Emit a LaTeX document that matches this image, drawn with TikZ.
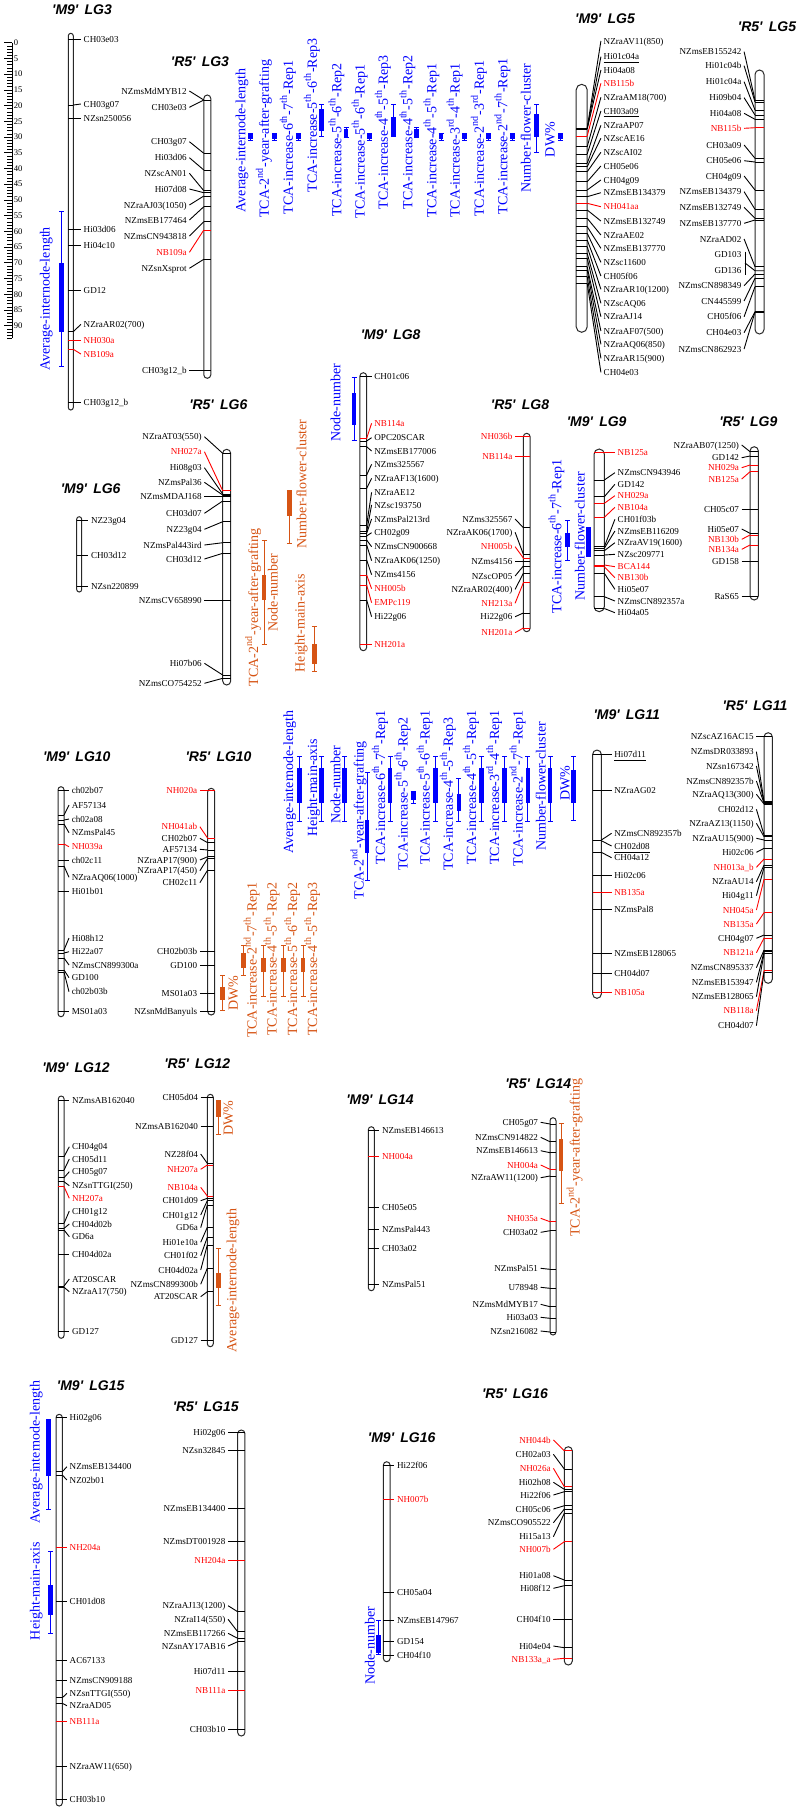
\documentclass[tikz,border=0pt]{standalone}
\usepackage{fontspec}
\setmainfont{Liberation Serif}
\newfontfamily\ttlfont{Liberation Sans}
\definecolor{qblue}{RGB}{0,0,255}
\definecolor{qorg}{RGB}{214,84,20}
\definecolor{mred}{RGB}{255,0,0}
\definecolor{chr}{RGB}{40,40,40}
\newcount\mkn
\newcommand\Sth{\textsuperscript{th}}
\newcommand\Snd{\textsuperscript{nd}}
\newcommand\Srd{\textsuperscript{rd}}
\newcommand\chrom[4]{\def\cx{#1}\pgfmathsetmacro\hw{#2/2}\draw[chromo,rounded corners={#2*0.25pt}] (#1-\hw,#3) rectangle (#1+\hw,#4);}
\newcommand\setlx[1]{\def\lx{#1}}
\newcommand\mkR[4][black]{\global\advance\mkn by 1
 \coordinate (t\the\mkn) at (\cx+\hw,#2);
 \draw[mline,draw=#1] (\cx-\hw,#2) -- (t\the\mkn);
 \node[mlab,text=#1,anchor=west] (m\the\mkn) at (\lx-2.4,#3) {#4};
 \draw[mline,draw=#1] (t\the\mkn) -- (m\the\mkn.west);}
\newcommand\mkL[4][black]{\global\advance\mkn by 1
 \coordinate (t\the\mkn) at (\cx-\hw,#2);
 \draw[mline,draw=#1] (\cx+\hw,#2) -- (t\the\mkn);
 \node[mlab,text=#1,anchor=east] (m\the\mkn) at (\lx+2.4,#3) {#4};
 \draw[mline,draw=#1] (m\the\mkn.east) -- (t\the\mkn);}
\newcommand\qtl[6][qblue]{\draw[qwh,draw=#1] (#2,#3) -- (#2,#4) (#2-2.5,#3) -- (#2+2.5,#3) (#2-2.5,#4) -- (#2+2.5,#4);
 \fill[#1] (#2-2.3,#5) rectangle (#2+2.3,#6);}
\newcommand\qlab[4][qblue]{\global\advance\mkn by 1
 \node[qlabel,text=#1,anchor=east] (q\the\mkn) at (#2,#3) {#4};}
\newcommand\qlabB[4][qblue]{\global\advance\mkn by 1
 \node[qlabel,text=#1,anchor=west] (q\the\mkn) at (#2,#3) {#4};}
\tikzset{
 chromo/.style={line width=0.5pt, draw=chr},
 mline/.style={line width=0.45pt},
 mlab/.style={font=\fontsize{4.55}{5}\selectfont, inner xsep=1.2pt, inner ysep=0.3pt, text height=3pt, text depth=0pt},
 ttl/.style={font=\ttlfont\bfseries\itshape\fontsize{7}{8}\selectfont, inner sep=0pt},
 qlabel/.style={font=\fontsize{7}{8}\selectfont, rotate=90, inner sep=0pt, text height=4.6pt, text depth=0pt},
 qwh/.style={line width=0.5pt},
 slab/.style={font=\fontsize{4.3}{5}\selectfont, inner sep=0.5pt},
}
\begin{document}
\begin{tikzpicture}[x=0.5pt,y=-0.5pt]
\useasboundingbox (0,0) rectangle (800,1811);
% ---------- scale bar ----------
\draw[mline] (12,42.7) -- (12,338);
\foreach \i in {0,...,94} \draw[line width=0.3pt] (7,{42.7+\i*3.144}) -- (12,{42.7+\i*3.144});
\foreach \i in {0,5,...,90} {\draw[line width=0.3pt] (4,{42.7+\i*3.144}) -- (12,{42.7+\i*3.144});
 \node[slab,anchor=west] (s\i) at (12.5,{42.7+\i*3.144}) {\i};}
% ---------- titles ----------
\node[ttl] (T1) at (82,10) {\textquotesingle M9\textquotesingle\hspace{0.45em}LG3};
\node[ttl] (T2) at (200,62) {\textquotesingle R5\textquotesingle\hspace{0.45em}LG3};
\node[ttl] (T3) at (605,18.3) {\textquotesingle M9\textquotesingle\hspace{0.45em}LG5};
\node[ttl] (T4) at (767,26.7) {\textquotesingle R5\textquotesingle\hspace{0.45em}LG5};
\node[ttl] (T5) at (390.7,335) {\textquotesingle M9\textquotesingle\hspace{0.45em}LG8};
\node[ttl] (T6) at (218.3,404.3) {\textquotesingle R5\textquotesingle\hspace{0.45em}LG6};
\node[ttl] (T7) at (90.7,488.3) {\textquotesingle M9\textquotesingle\hspace{0.45em}LG6};
\node[ttl] (T8) at (520,405) {\textquotesingle R5\textquotesingle\hspace{0.45em}LG8};
\node[ttl] (T9) at (596.7,421.7) {\textquotesingle M9\textquotesingle\hspace{0.45em}LG9};
\node[ttl] (T10) at (748.3,421.7) {\textquotesingle R5\textquotesingle\hspace{0.45em}LG9};
\node[ttl] (T11) at (76.8,756.7) {\textquotesingle M9\textquotesingle\hspace{0.45em}LG10};
\node[ttl] (T12) at (218.6,756.7) {\textquotesingle R5\textquotesingle\hspace{0.45em}LG10};
\node[ttl] (T13) at (626.7,714.3) {\textquotesingle M9\textquotesingle\hspace{0.45em}LG11};
\node[ttl] (T14) at (755,706) {\textquotesingle R5\textquotesingle\hspace{0.45em}LG11};
\node[ttl] (T15) at (76,1067.3) {\textquotesingle M9\textquotesingle\hspace{0.45em}LG12};
\node[ttl] (T16) at (197.3,1063.3) {\textquotesingle R5\textquotesingle\hspace{0.45em}LG12};
\node[ttl] (T17) at (380,1100) {\textquotesingle M9\textquotesingle\hspace{0.45em}LG14};
\node[ttl] (T18) at (538.3,1084) {\textquotesingle R5\textquotesingle\hspace{0.45em}LG14};
\node[ttl] (T19) at (90.7,1385.7) {\textquotesingle M9\textquotesingle\hspace{0.45em}LG15};
\node[ttl] (T20) at (205.7,1406.7) {\textquotesingle R5\textquotesingle\hspace{0.45em}LG15};
\node[ttl] (T21) at (401.7,1437.3) {\textquotesingle M9\textquotesingle\hspace{0.45em}LG16};
\node[ttl] (T22) at (515,1394) {\textquotesingle R5\textquotesingle\hspace{0.45em}LG16};
% ---------- M9 LG3 ----------
\chrom{70.8}{5}{33.3}{410}\setlx{83.3}
\mkR{39}{39}{CH03e03}
\mkR{105}{104}{CH03g07}
\mkR{118.3}{118.3}{NZsn250056}
\mkR{229}{229}{Hi03d06}
\mkR{245}{245}{Hi04c10}
\mkR{290}{290}{GD12}
\mkR{331.7}{324.3}{NZraAR02(700)}
\mkR[mred]{340}{340}{NH030a}
\mkR[mred]{349.3}{354}{NB109a}
\mkR{402.7}{402.7}{CH03g12\_b}
\qtl{61.7}{211.7}{366}{262.7}{331.7}
\qlab{45}{226.7}{Average-internode-length}
% ---------- R5 LG3 ----------
\chrom{207.3}{7}{95}{378.3}\setlx{187}
\mkL{100}{91}{NZmsMdMYB12}
\mkL{100}{107.3}{CH03e03}
\mkL{153.3}{141.7}{CH03g07}
\mkL{170}{157.7}{Hi03d06}
\mkL{190.7}{173.3}{NZscAN01}
\mkL{192.7}{189}{Hi07d08}
\mkL{196}{205}{NZraAJ03(1050)}
\mkL{206.7}{220}{NZmsEB177464}
\mkL{221.7}{236}{NZmsCN943818}
\mkL[mred]{230}{252.3}{NB109a}
\mkL{259.3}{268.3}{NZsnXsprot}
\mkL{370.7}{370.7}{CH03g12\_b}
% ---------- row 1 QTLs (M9 LG5) ----------
\qtl{250.7}{133}{140}{134.3}{138.7}\qlab{240.7}{68.3}{Average-internode-length}
\qtl{274.3}{133}{140}{134.3}{138.7}\qlab{264.3}{59.3}{TCA-2\Snd-year-after-grafting}
\qtl{298.3}{133}{140}{134.3}{138.7}\qlab{288.3}{60}{TCA-increase-6\Sth-7\Sth-Rep1}
\qtl{321.7}{104}{136.7}{109.3}{130.7}\qlab{312.3}{38.3}{TCA-increase-5\Sth-6\Sth-Rep3}
\qtl{346}{127.7}{137}{128.5}{136.7}\qlab{336.7}{62.7}{TCA-increase-5\Sth-6\Sth-Rep2}
\qtl{369.3}{133}{140}{134.3}{138.7}\qlab{360}{64.3}{TCA-increase-5\Sth-6\Sth-Rep1}
\qtl{393.3}{104.3}{136.7}{117.3}{136.7}\qlab{383.3}{55}{TCA-increase-4\Sth-5\Sth-Rep3}
\qtl{416.7}{127.7}{137}{128.5}{136.7}\qlab{407.7}{55}{TCA-increase-4\Sth-5\Sth-Rep2}
\qtl{441}{133}{140}{134.3}{138.7}\qlab{431.7}{63.3}{TCA-increase-4\Sth-5\Sth-Rep1}
\qtl{464.3}{133}{140}{134.3}{138.7}\qlab{455}{63.3}{TCA-increase-3\Srd-4\Sth-Rep1}
\qtl{488.7}{133}{140}{134.3}{138.7}\qlab{479.3}{60}{TCA-increase-2\Snd-3\Srd-Rep1}
\qtl{512.3}{133}{140}{134.3}{138.7}\qlab{502.7}{58.3}{TCA-increase-2\Snd-7\Sth-Rep1}
\qtl{536.7}{104.3}{152.7}{114.3}{137.3}\qlab{526}{63.3}{Number-flower-cluster}
\qtl{560.7}{133}{140}{134.3}{138.7}\qlab{550}{121.7}{DW\%}
% ---------- M9 LG5 ----------
\chrom{581.7}{11}{84.3}{332.3}\setlx{603.3}
\mkR{128}{41}{NZraAV11(850)}
\mkR{128.5}{56.7}{\underline{Hi01c04a}}
\mkR{129}{70}{Hi04a08}
\mkR[mred]{136}{83.3}{NB115b}
\mkR{146.7}{97.3}{NZraAM18(700)}
\mkR{154}{111}{\underline{CH03a09}}
\mkR{163.3}{125.3}{NZraAP07}
\mkR{166.7}{138.3}{NZscAE16}
\mkR{171.7}{152.3}{NZscAI02}
\mkR{181.7}{166}{CH05e06}
\mkR{190}{180}{CH04g09}
\mkR{196.7}{192.7}{NZmsEB134379}
\mkR[mred]{203.3}{206.7}{NH041aa}
\mkR{210}{221}{NZmsEB132749}
\mkR{218.3}{235}{NZraAE02}
\mkR{226.7}{248.3}{NZmsEB137770}
\mkR{233.3}{262.3}{NZsc11600}
\mkR{240}{276}{CH05f06}
\mkR{246.7}{289.3}{NZraAR10(1200)}
\mkR{253.3}{303.3}{NZscAQ06}
\mkR{258.3}{316.7}{NZraAJ14}
\mkR{266.7}{331}{NZraAF07(500)}
\mkR{270}{344.3}{NZraAQ06(850)}
\mkR{276.7}{358.3}{NZraAR15(900)}
\mkR{283.3}{372.3}{CH04e03}
% ---------- R5 LG5 ----------
\chrom{759.5}{9}{70}{334}\setlx{741.7}
\mkL{100}{51.7}{NZmsEB155242}
\mkL{102}{65.7}{Hi01c04b}
\mkL{110}{81.7}{Hi01c04a}
\mkL{115}{97.7}{Hi09b04}
\mkL{119.3}{113.3}{Hi04a08}
\mkL[mred]{127.7}{128.3}{NB115b}
\mkL{158.3}{145}{CH03a09}
\mkL{162}{160.7}{CH05e06}
\mkL{190}{176}{CH04g09}
\mkL{209.3}{191.7}{NZmsEB134379}
\mkL{218.3}{207.3}{NZmsEB132749}
\mkL{220}{223.3}{NZmsEB137770}
\mkL{266.7}{239}{NZraAD02}
\node[mlab,anchor=east] (gd103) at (744.1,254) {GD103};
\node[mlab,anchor=east] (gd136) at (744.1,270) {GD136};
\coordinate (gdb) at (745,263);
\coordinate (gdt) at (755,270.7);
\draw[mline] (745,251.7) -- (745,275);
\draw[mline] (gdb) -- (gdt) -- (764,270.7);
\mkL{274}{285.7}{NZmsCN898349}
\mkL{278.3}{301}{CN445599}
\mkL{286.7}{316.7}{CH05f06}
\mkL{311.7}{332.7}{CH04e03}
\mkL{312}{349}{NZmsCN862923}
% ---------- M9 LG6 ----------
\chrom{79.2}{5}{516.7}{592}\setlx{90.7}
\mkR{520.7}{520.7}{NZ23g04}
\mkR{555.7}{555.7}{CH03d12}
\mkR{586}{586}{NZsn220899}
% ---------- R5 LG6 ----------
\chrom{226.7}{8}{449.3}{685}\setlx{202}
\mkL{453.3}{436.7}{NZraAT03(550)}
\mkL[mred]{490.7}{451.7}{NH027a}
\mkL{494}{467.7}{Hi08g03}
\mkL{495}{482.3}{NZmsPal36}
\mkL{496.7}{496.7}{NZmsMDAJ168}
\mkL{501}{513.3}{CH03d07}
\mkL{521.7}{529.3}{NZ23g04}
\mkL{542.7}{545}{NZmsPal443ird}
\mkL{553.3}{559}{CH03d12}
\mkL{600}{600}{NZmsCV658990}
\mkL{675}{663.3}{Hi07b06}
\mkL{678.3}{683.3}{NZmsCO754252}
\qlabB[qorg]{253.6}{686.7}{TCA-2\Snd-year-after-grafting}
\qtl[qorg]{264}{540}{644}{575}{600}
\qlab[qorg]{273}{553}{Node-number}
\qtl[qorg]{289.3}{490}{543.3}{490.7}{516}
\qlab[qorg]{301.7}{419.3}{Number-flower-cluster}
\qtl[qorg]{314.3}{626.7}{671.7}{644}{664.3}
\qlabB[qorg]{300}{672.7}{Height-main-axis}
% ---------- M9 LG8 ----------
\chrom{363.3}{6.7}{372.7}{650.7}\setlx{374}
\mkR{376}{376}{CH01c06}
\mkR[mred]{438.3}{423.3}{NB114a}
\mkR{441}{437.7}{OPC20SCAR}
\mkR{446.7}{451}{NZmsEB177006}
\mkR{475}{464.3}{NZms325567}
\mkR{488.3}{478.3}{NZraAF13(1600)}
\mkR{525}{492.3}{NZraAE12}
\mkR{531.7}{505}{NZsc193750}
\mkR{533.3}{519}{NZmsPal213rd}
\mkR{536}{532.7}{CH02g09}
\mkR{540}{546.7}{NZmsCN900668}
\mkR{545}{560.7}{NZraAK06(1250)}
\mkR{560}{574.7}{NZms4156}
\mkR[mred]{575}{588.7}{NH005b}
\mkR[mred]{585}{602.7}{EMPc119}
\mkR{600}{616.7}{Hi22g06}
\mkR[mred]{644.3}{644.3}{NH201a}
\qtl{354}{377.7}{440.7}{392.7}{425}
\qlab{335.7}{363.3}{Node-number}
% ---------- R5 LG8 ----------
\chrom{526.7}{6.7}{433.3}{631.7}\setlx{512.7}
\mkL[mred]{436.7}{436.7}{NH036b}
\mkL[mred]{456}{456}{NB114a}
\mkL{527.7}{519}{NZms325567}
\mkL{554.3}{532.3}{NZraAK06(1700)}
\mkL[mred]{558}{546.7}{NH005b}
\mkL{561}{561}{NZms4156}
\mkL{566}{576}{NZscOP05}
\mkL{573.3}{589.3}{NZraAR02(400)}
\mkL[mred]{582.7}{603.3}{NH213a}
\mkL{613}{616.7}{Hi22g06}
\mkL[mred]{628}{632.7}{NH201a}
% ---------- M9 LG9 ----------
\chrom{599.2}{10.3}{449}{611.7}\setlx{617.3}
\mkR[mred]{452.7}{452.7}{NB125a}
\mkR{480}{472.7}{NZmsCN943946}
\mkR{496.7}{484.3}{GD142}
\mkR[mred]{503.3}{495.7}{NH029a}
\mkR[mred]{517.3}{507.3}{NB104a}
\mkR{546.7}{519.3}{CH01f03b}
\mkR{548.3}{531}{NZmsEB116209}
\mkR{550.7}{542.7}{NZraAV19(1600)}
\mkR{555}{554.3}{NZsc209771}
\mkR[mred]{565}{566.7}{BCA144}
\mkR[mred]{566.7}{577.7}{NB130b}
\mkR{573.3}{589.3}{Hi05e07}
\mkR{596.7}{601}{NZmsCN892357a}
\mkR{608.5}{612.7}{Hi04a05}
\qtl{567.7}{520}{560}{533.3}{546.7}
\qlab{556.7}{459.3}{TCA-increase-6\Sth-7\Sth-Rep1}
\fill[qblue] (586.4,526.7) rectangle (591,556.7);
\qlab{580}{471.7}{Number-flower-cluster}
% ---------- R5 LG9 ----------
\chrom{754.2}{8.3}{446.7}{600}\setlx{739.3}
\mkL{451.7}{445}{NZraAB07(1250)}
\mkL{456}{457.7}{GD142}
\mkL[mred]{465}{467.7}{NH029a}
\mkL[mred]{471.7}{479}{NB125a}
\mkL{509}{509}{CH05c07}
\mkL{533.3}{529}{Hi05e07}
\mkL[mred]{535}{539.3}{NB130b}
\mkL[mred]{545}{549.3}{NB134a}
\mkL{561.7}{561.7}{GD158}
\mkL{596}{596}{RaS65}
% ---------- M9 LG10 ----------
\chrom{61}{6}{786.7}{1016.7}\setlx{71.4}
\mkR{790}{790}{ch02b07}
\mkR{815}{805}{AF57134}
\mkR{820}{819}{ch02a08}
\mkR{824}{832.7}{NZmsPal45}
\mkR[mred]{844}{846.7}{NH039a}
\mkR{860}{860}{ch02c11}
\mkR{866}{877.3}{NZraAQ06(1000)}
\mkR{891.7}{891.7}{Hi01b01}
\mkR{950}{938}{Hi08h12}
\mkR{953}{951.7}{Hi22a07}
\mkR{958}{965}{NZmsCN899300a}
\mkR{970}{977.7}{GD100}
\mkR{972}{991.7}{ch02b03b}
\mkR{1011}{1011}{MS01a03}
% ---------- R5 LG10 ----------
\chrom{211.2}{7}{788.3}{1015}\setlx{197.5}
\mkL[mred]{790}{790}{NH020a}
\mkL[mred]{838.3}{826.7}{NH041ab}
\mkL{842.7}{838.3}{CH02b07}
\mkL{850}{849.3}{AF57134}
\mkL{856.7}{860}{NZraAP17(900)}
\mkL{858.3}{870.7}{NZraAP17(450)}
\mkL{870}{882.7}{CH02c11}
\mkL{951.7}{951.7}{CH02b03b}
\mkL{965}{965}{GD100}
\mkL{993.3}{993.3}{MS01a03}
\mkL{1011}{1011}{NZsnMdBanyuls}
\qtl[qorg]{222.7}{975}{1010}{986.7}{1000}\qlab[qorg]{233.3}{975}{DW\%}
\qtl[qorg]{243.3}{945}{975}{953}{968}\qlab[qorg]{252}{881.7}{TCA-increase-2\Snd-7\Sth-Rep1}
\qtl[qorg]{263.3}{945}{996.7}{958}{972}\qlab[qorg]{272}{881.7}{TCA-increase-4\Sth-5\Sth-Rep2}
\qtl[qorg]{283.3}{945}{996.7}{958}{972}\qlab[qorg]{292.5}{881.7}{TCA-increase-5\Sth-6\Sth-Rep2}
\qtl[qorg]{303}{945}{996.7}{958}{972}\qlab[qorg]{312.5}{881.7}{TCA-increase-4\Sth-5\Sth-Rep3}
% ---------- row 3 QTLs (M9 LG11) ----------
\qtl{299.3}{756.7}{821}{768}{803}\qlab{288.6}{710}{Average-internode-length}
\qtl{321.4}{756.7}{821}{768}{803}\qlab{312.5}{738.3}{Height-main-axis}
\qtl{344.6}{756.7}{821}{768}{803}\qlab{335.7}{745}{Node-number}
\qtl{367.1}{772.7}{880}{820}{852.7}\qlab{358.9}{740.7}{TCA-2\Snd-year-after-grafting}
\qtl{390}{756.7}{821}{768}{803}\qlab{380.4}{710}{TCA-increase-6\Sth-7\Sth-Rep1}
\qtl{413.2}{791.7}{803.3}{791.7}{800}\qlab{402.9}{716.7}{TCA-increase-5\Sth-6\Sth-Rep2}
\qtl{435.7}{756.7}{821}{768}{803}\qlab{425}{710}{TCA-increase-5\Sth-6\Sth-Rep1}
\qtl{458.9}{778.3}{821.7}{794}{810.7}\qlab{448.2}{716.7}{TCA-increase-4\Sth-5\Sth-Rep3}
\qtl{481.4}{756.7}{821}{768}{803}\qlab{471.4}{710}{TCA-increase-4\Sth-5\Sth-Rep1}
\qtl{504.6}{756.7}{821}{768}{803}\qlab{494.6}{710}{TCA-increase-3\Srd-4\Sth-Rep1}
\qtl{527.9}{756.7}{821}{768}{803}\qlab{517.9}{710}{TCA-increase-2\Snd-7\Sth-Rep1}
\qtl{550}{756.7}{821}{768}{803}\qlab{541.1}{721.7}{Number-flower-cluster}
\qtl{573.3}{756.7}{820}{770}{802.7}\qlab{565}{765}{DW\%}
% ---------- M9 LG11 ----------
\chrom{597}{8.7}{750}{998.3}\setlx{614}
\mkR{754.3}{754.3}{\underline{Hi07d11}}
\mkR{790.7}{790.7}{NZraAG02}
\mkR{840}{833.3}{NZmsCN892357b}
\mkR{840.7}{846}{\underline{CH02d08}}
\mkR{852.3}{857.7}{CH04a12}
\mkR{875}{875}{Hi02c06}
\mkR[mred]{892.7}{892.7}{NB135a}
\mkR{909.3}{909.3}{NZmsPal8}
\mkR{953.3}{953.3}{NZmsEB128065}
\mkR{973.3}{973.3}{CH04d07}
\mkR[mred]{992.7}{992.7}{NB105a}
% ---------- R5 LG11 ----------
\chrom{768.2}{8.3}{732.7}{983.3}\setlx{754}
\mkL{736.7}{736.7}{NZscAZ16AC15}
\mkL{801.7}{751.7}{NZmsDR033893}
\mkL{802.7}{766}{NZsn167342}
\mkL{803.3}{781}{NZmsCN892357b}
\mkL{804}{794.3}{NZraAQ13(300)}
\mkL{835}{809.3}{CH02d12}
\mkL{836.7}{823.3}{NZraAZ13(1150)}
\mkL{840}{838.3}{NZraAU15(900)}
\mkL{848.3}{852.3}{Hi02c06}
\mkL[mred]{859}{867.3}{NH013a\_b}
\mkL{865}{881.7}{NZraAU14}
\mkL{867.3}{895.7}{Hi04g11}
\mkL[mred]{879.3}{910}{NH045a}
\mkL[mred]{912.7}{924}{NB135a}
\mkL{935}{938.3}{CH04g07}
\mkL[mred]{938}{952.7}{NB121a}
\mkL{950}{967.7}{NZmsCN895337}
\mkL{951.7}{982.3}{NZmsEB153947}
\mkL{953.3}{996.7}{NZmsEB128065}
\mkL[mred]{970.7}{1010.7}{NB118a}
\mkL{972}{1025.7}{CH04d07}
% ---------- M9 LG12 ----------
\chrom{61.2}{5.7}{1096}{1338.3}\setlx{71.7}
\mkR{1100}{1100}{NZmsAB162040}
\mkR{1156.7}{1146.7}{CH04g04}
\mkR{1170}{1159}{CH05d11}
\mkR{1177.7}{1171.7}{CH05g07}
\mkR{1181.7}{1185.7}{NZsnTTGI(250)}
\mkR[mred]{1186.7}{1198.3}{NH207a}
\mkR{1223.3}{1211}{CH01g12}
\mkR{1228.3}{1224}{CH04d02b}
\mkR{1230}{1236.7}{GD6a}
\mkR{1254}{1254}{CH04d02a}
\mkR{1286}{1279}{AT20SCAR}
\mkR{1287.3}{1291.7}{NZraA17(750)}
\mkR{1331.7}{1331.7}{GD127}
% ---------- R5 LG12 ----------
\chrom{210.3}{6}{1094.3}{1346.7}\setlx{198.3}
\mkL{1097.7}{1097.7}{CH05d04}
\mkL{1126.7}{1126.7}{NZmsAB162040}
\mkL{1163.3}{1154}{NZ28f04}
\mkL[mred]{1165}{1169.3}{NH207a}
\mkL[mred]{1196}{1187.3}{NB104a}
\mkL{1198.3}{1200.7}{CH01d09}
\mkL{1200.7}{1215}{CH01g12}
\mkL{1205}{1227.7}{GD6a}
\mkL{1227.3}{1242.3}{Hi01e10a}
\mkL{1237.3}{1255.7}{CH01f02}
\mkL{1245}{1270}{CH04d02a}
\mkL{1268.3}{1284.3}{NZmsCN899300b}
\mkL{1291.7}{1296.7}{AT20SCAR}
\mkL{1340}{1340}{GD127}
\qtl[qorg]{218.3}{1100}{1134.3}{1100}{1116.7}\qlab[qorg]{228.3}{1100}{DW\%}
\qtl[qorg]{218.3}{1248.3}{1305}{1273.3}{1288.3}\qlab[qorg]{231.7}{1208.3}{Average-internode-length}
% ---------- M9 LG14 ----------
\chrom{371.3}{6}{1126.7}{1290.7}\setlx{381.7}
\mkR{1130.7}{1130.7}{NZmsEB146613}
\mkR[mred]{1156}{1156}{NH004a}
\mkR{1207.7}{1207.7}{CH05e05}
\mkR{1229}{1229}{NZmsPal443}
\mkR{1248.3}{1248.3}{CH03a02}
\mkR{1284}{1284}{NZmsPal51}
% ---------- R5 LG14 ----------
\chrom{553}{6}{1117.7}{1335}\setlx{538.3}
\mkL{1124}{1122.3}{CH05g07}
\mkL{1141.7}{1137.3}{NZmsCN914822}
\mkL{1152.7}{1150.7}{NZmsEB146613}
\mkL[mred]{1169.3}{1165}{NH004a}
\mkL{1176}{1177.7}{NZraAW11(1200)}
\mkL[mred]{1221.7}{1218.3}{NH035a}
\mkL{1230.7}{1232.3}{CH03a02}
\mkL{1269.3}{1268.3}{NZmsPal51}
\mkL{1288.3}{1287.3}{U78948}
\mkL{1306.7}{1304.3}{NZmsMdMYB17}
\mkL{1318.3}{1317.3}{Hi03a03}
\mkL{1332}{1331}{NZsn216082}
\qtl[qorg]{561}{1123.3}{1203.3}{1139}{1170.7}\qlab[qorg]{575}{1078.3}{TCA-2\Snd-year-after-grafting}
% ---------- M9 LG15 ----------
\chrom{59.2}{6.3}{1414.3}{1806}\setlx{69.3}
\mkR{1417.7}{1417.7}{Hi02g06}
\mkR{1471.7}{1466.7}{NZmsEB134400}
\mkR{1475}{1480}{NZ02b01}
\mkR[mred]{1547.3}{1547.3}{NH204a}
\mkR{1601}{1601}{CH01d08}
\mkR{1660.7}{1660.7}{AC67133}
\mkR{1680}{1680}{NZmsCN909188}
\mkR{1697.7}{1693.3}{NZsnTTGI(550)}
\mkR{1703.3}{1705.7}{NZraAD05}
\mkR[mred]{1721}{1721}{NB111a}
\mkR{1766}{1766}{NZraAW11(650)}
\mkR{1799.3}{1799.3}{CH03b10}
\qtl{48.7}{1419.3}{1509.3}{1419.3}{1476}\qlab{35}{1380}{Average-internode-length}
\qtl{50.7}{1551.7}{1633.3}{1585}{1615}\qlab{35}{1541.7}{Height-main-axis}
% ---------- R5 LG15 ----------
\chrom{241.3}{7.3}{1430}{1736}\setlx{225.7}
\mkL{1432.3}{1432.3}{Hi02g06}
\mkL{1450.7}{1450.7}{NZsn32845}
\mkL{1508.3}{1508.3}{NZmsEB134400}
\mkL{1541}{1541}{NZmsDT001928}
\mkL[mred]{1560}{1560}{NH204a}
\mkL{1611.7}{1605.7}{NZraAJ13(1200)}
\mkL{1631.7}{1619.3}{NZraI14(550)}
\mkL{1638.3}{1633.3}{NZmsEB117266}
\mkL{1641.7}{1646}{NZsnAY17AB16}
\mkL{1671}{1671}{Hi07d11}
\mkL[mred]{1690}{1690}{NB111a}
\mkL{1729}{1729}{CH03b10}
% ---------- M9 LG16 ----------
\chrom{386.7}{6.7}{1461.7}{1661.7}\setlx{396.7}
\mkR{1465.7}{1465.7}{Hi22f06}
\mkR[mred]{1499.3}{1499.3}{NH007b}
\mkR{1592.7}{1592.7}{CH05a04}
\mkR{1620.7}{1620.7}{NZmsEB147967}
\mkR{1641.7}{1641.7}{GD154}
\mkR{1655}{1655}{CH04f10}
\qtl{378.7}{1620}{1654.3}{1635}{1653.3}\qlab{370}{1606.7}{Node-number}
% ---------- R5 LG16 ----------
\chrom{568.3}{8}{1446.7}{1665}\setlx{551}
\mkL[mred]{1450.7}{1440}{NH044b}
\mkL{1469}{1454.3}{CH02a03}
\mkL[mred]{1486.7}{1468.3}{NH026a}
\mkL{1489.3}{1482.3}{Hi02h08}
\mkL{1491.7}{1495}{Hi22f06}
\mkL{1505.7}{1509}{CH05c06}
\mkL{1509}{1522.7}{NZmsCO905522}
\mkL{1513.3}{1536.7}{Hi15a13}
\mkL[mred]{1541.7}{1549.3}{NH007b}
\mkL{1580}{1575.7}{Hi01a08}
\mkL{1585.7}{1588.3}{Hi08f12}
\mkL{1619.3}{1619.3}{CH04f10}
\mkL{1647.7}{1646}{Hi04e04}
\mkL[mred]{1658.3}{1659.3}{NB133a\_a}
\end{tikzpicture}
\end{document}
